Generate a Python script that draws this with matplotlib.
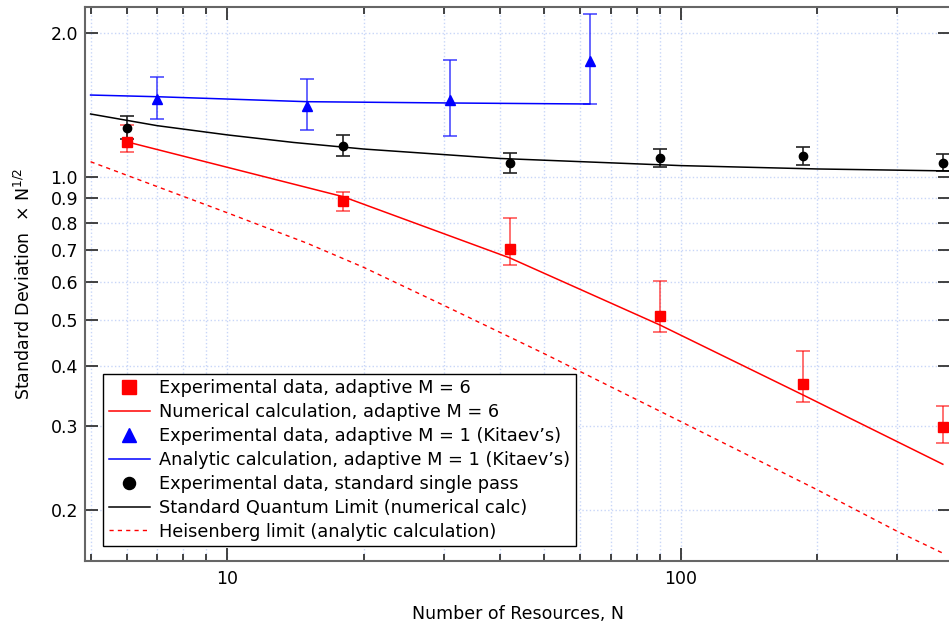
import matplotlib
matplotlib.use('Agg')
import matplotlib.pyplot as plt
import numpy as np

plt.rcParams['font.family'] = ['DejaVu Sans']
plt.rcParams['font.size'] = 12

# experimental data, adaptive M = 6  (N = 6(2^K - 1))
N6 = [6, 18, 42, 90, 186, 378]
y6 = [1.184, 0.888, 0.704, 0.510, 0.3665, 0.2977]
y6_lo = [1.125, 0.847, 0.653, 0.473, 0.337, 0.2766]
y6_hi = [1.284, 0.930, 0.820, 0.604, 0.431, 0.330]

# numerical calculation, adaptive M = 6
N6calc = [6, 18, 42, 90, 186, 378]
y6calc = [1.184, 0.908, 0.675, 0.488, 0.348, 0.249]

# experimental data, adaptive M = 1 (Kitaev's)
N1 = [7, 15, 31, 63]
y1 = [1.454, 1.407, 1.449, 1.747]
y1_lo = [1.322, 1.253, 1.217, 1.423]
y1_hi = [1.619, 1.606, 1.760, 2.199]

# analytic calculation, adaptive M = 1
N1calc = [5, 7, 15, 31, 63]
y1calc = [1.484, 1.472, 1.437, 1.428, 1.421]

# experimental data, standard single pass
Ns = [6, 18, 42, 90, 186, 378]
ys = [1.264, 1.162, 1.070, 1.093, 1.105, 1.070]
ys_lo = [1.198, 1.107, 1.019, 1.049, 1.060, 1.026]
ys_hi = [1.339, 1.225, 1.123, 1.142, 1.156, 1.118]

# standard quantum limit (numerical calc)
Nsql = [5, 7, 10, 14, 20, 40, 100, 200, 394]
ysql = [1.354, 1.280, 1.224, 1.180, 1.143, 1.092, 1.055, 1.038, 1.028]

# Heisenberg limit (analytic calculation)
Nhl = [5, 10, 15, 20, 30, 50, 100, 200, 300, 378]
yhl = [1.075, 0.840, 0.725, 0.645, 0.537, 0.425, 0.306, 0.220, 0.180, 0.162]


def yerr(y, lo, hi):
    y = np.array(y)
    return [y - np.array(lo), np.array(hi) - y]


fig = plt.figure(figsize=(9.49, 6.28), dpi=100)
ax = fig.add_axes([85/949, (628-560.7)/628, (951-85)/949, (560.7-7.3)/628])
ax.set_xscale('log')
ax.set_yscale('log')
ax.set_xlim(4.86, 394)
ax.set_ylim(0.1562, 2.268)

grid_color = '#c8d6f8'
ax.errorbar(N6, y6, yerr=yerr(y6, y6_lo, y6_hi), fmt='none', ecolor='#ff0000',
            alpha=0.65, elinewidth=1.2, capsize=5, capthick=1.2, zorder=3)
ax.errorbar(N1, y1, yerr=yerr(y1, y1_lo, y1_hi), fmt='none', ecolor='#2020ff',
            alpha=0.8, elinewidth=1.2, capsize=5, capthick=1.2, zorder=3)
ax.errorbar(Ns, ys, yerr=yerr(ys, ys_lo, ys_hi), fmt='none', ecolor='#222222',
            elinewidth=1.2, capsize=5, capthick=1.2, zorder=3)

h1, = ax.plot(N6, y6, 's', color='#ff0000', ms=6.5, ls='none', zorder=5,
              label='Experimental data, adaptive M = 6')
h2, = ax.plot(N6calc, y6calc, '-', color='#ff0000', lw=1.1, zorder=4,
              label='Numerical calculation, adaptive M = 6')
h3, = ax.plot(N1, y1, '^', color='#0000ff', ms=7, ls='none', zorder=5,
              label='Experimental data, adaptive M = 1 (Kitaev\u2019s)')
h4, = ax.plot(N1calc, y1calc, '-', color='#0000ff', lw=1.1, zorder=4,
              label='Analytic calculation, adaptive M = 1 (Kitaev\u2019s)')
h5, = ax.plot(Ns, ys, 'o', color='black', ms=6, ls='none', zorder=5,
              label='Experimental data, standard single pass')
h6, = ax.plot(Nsql, ysql, '-', color='black', lw=1.1, zorder=4,
              label='Standard Quantum Limit (numerical calc)')
h7, = ax.plot(Nhl, yhl, '--', color='#ff0000', lw=1.0, dashes=(3, 3), zorder=4,
              label='Heisenberg limit (analytic calculation)')

# ticks
yticks = [0.2, 0.3, 0.4, 0.5, 0.6, 0.7, 0.8, 0.9, 1.0, 2.0]
ax.set_yticks(yticks)
ax.set_yticklabels(['%.1f' % v for v in yticks])
ax.yaxis.set_minor_locator(matplotlib.ticker.NullLocator())
ax.set_xticks([10, 100])
ax.set_xticklabels(['10', '100'])
ax.set_xticks([5, 6, 7, 8, 9, 20, 30, 40, 50, 60, 70, 80, 90, 200, 300], minor=True)
ax.xaxis.set_minor_formatter(matplotlib.ticker.NullFormatter())

ax.tick_params(which='both', direction='in', top=True, right=True,
               color='#333333', width=1.3, labelsize=12.5)
ax.tick_params(axis='x', pad=7)
ax.tick_params(axis='y', pad=5)
ax.tick_params(which='major', length=9.5)
ax.tick_params(which='minor', length=5)

ax.grid(True, which='both', axis='x', color=grid_color, ls=':', lw=1.0)
ax.grid(True, which='major', axis='y', color=grid_color, ls=':', lw=1.0)
ax.set_axisbelow(True)

for s in ax.spines.values():
    s.set_color('#666666')
    s.set_linewidth(1.5)

ax.set_xlabel('Number of Resources, N', fontsize=12.5, labelpad=12)
ax.set_ylabel('Standard Deviation  \u00d7 N$^{1/2}$', fontsize=12.5, labelpad=12)

leg = ax.legend(handles=[h1, h2, h3, h4, h5, h6, h7], loc='lower left',
                bbox_to_anchor=(103.3/949, (628-546)/628),
                bbox_transform=fig.transFigure, borderaxespad=0,
                fontsize=12.8, markerscale=1.45, handlelength=2.3,
                handletextpad=0.55, labelspacing=0.33, borderpad=0.3,
                fancybox=False, framealpha=1, edgecolor='black')
leg.get_frame().set_linewidth(1.0)

fig.savefig('out.png', dpi=100)
